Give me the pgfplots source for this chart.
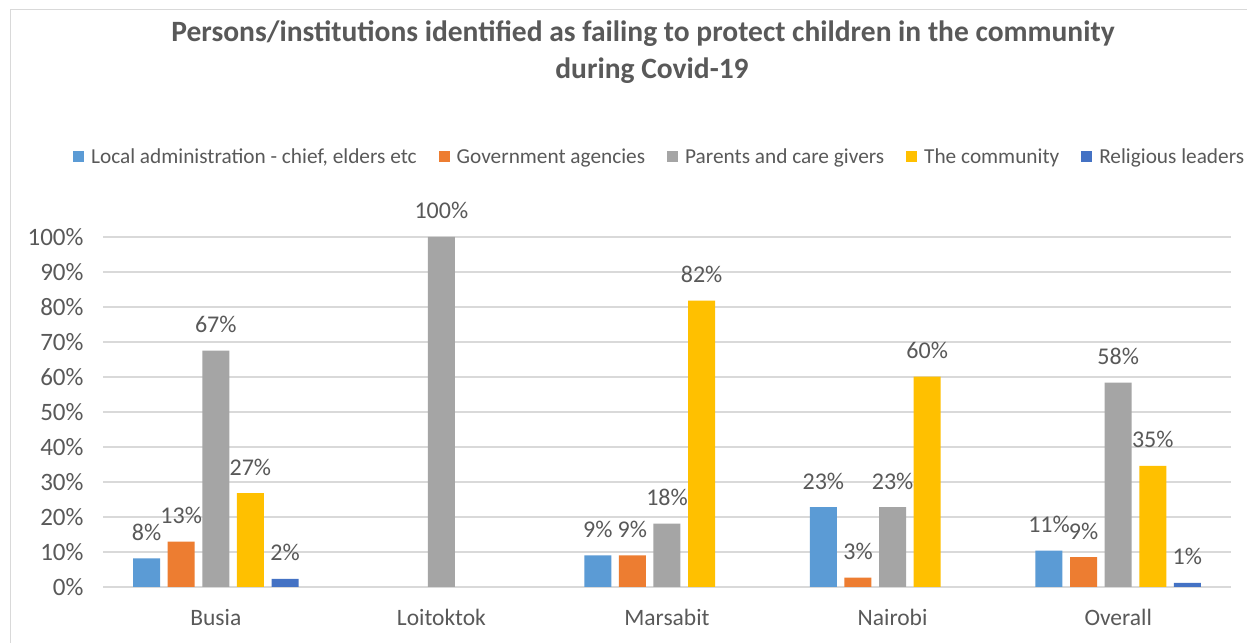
\documentclass[border=0pt]{standalone}
\usepackage{fontspec}
\setmainfont{Carlito}
\usepackage{pgfplots}
\pgfplotsset{compat=1.18}
\definecolor{txt}{HTML}{595959}
\definecolor{gridc}{HTML}{D9D9D9}
\definecolor{cA}{HTML}{5B9BD5}
\definecolor{cB}{HTML}{ED7D31}
\definecolor{cC}{HTML}{A5A5A5}
\definecolor{cD}{HTML}{FFC000}
\definecolor{cE}{HTML}{4472C4}
\begin{document}
\begin{tikzpicture}[x=1bp,y=1bp]
\useasboundingbox (0,0) rectangle (1247,643);
\fill[white] (0,0) rectangle (1247,643);
\draw[gridc, line width=1.5bp] (10.5,0) -- (10.5,633.5) -- (1247,633.5);
\node[font=\fontsize{29.5bp}{33bp}\selectfont\bfseries, text=txt] at (643,609) {Persons/institutions identified as failing to protect children in the community};
\node[font=\fontsize{29.5bp}{33bp}\selectfont\bfseries, text=txt] at (652,572) {during Covid-19};
\begin{axis}[
  at={(103bp,56bp)}, anchor=south west,
  scale only axis, width=1128bp, height=350bp,
  xmin=-0.5, xmax=4.5, ymin=0, ymax=100,
  ybar=7.6bp, bar width=27bp,
  axis line style={draw=none},
  major tick length=0pt,
  ymajorgrids, grid style={gridc, line width=1.3bp},
  ytick={0,10,...,100},
  yticklabels={0\%,10\%,20\%,30\%,40\%,50\%,60\%,70\%,80\%,90\%,100\%},
  xtick={0,1,2,3,4},
  xticklabels={Busia,Loitoktok,Marsabit,Nairobi,Overall},
  yticklabel style={font=\fontsize{25bp}{29bp}\selectfont, text=txt, xshift=-16bp},
  xticklabel style={font=\fontsize{23.5bp}{27bp}\selectfont, text=txt, yshift=-19bp},
  clip=false,
  point meta=explicit symbolic,
  nodes near coords,
  every node near coord/.append style={font=\fontsize{24bp}{28bp}\selectfont, text=txt, anchor=base, yshift=18bp},
  legend columns=5,
  legend style={draw=none, fill=none, at={(0.4935,1.2286)}, anchor=center,
    font=\fontsize{21.3bp}{25bp}\selectfont, text=txt,
    /tikz/every even column/.append style={column sep=20bp},
    /tikz/every odd column/.append style={column sep=0bp},
    inner sep=0pt},
  legend image code/.code={\fill[#1] (0bp,-5.5bp) rectangle (11bp,5.5bp);},
  legend cell align=left,
]
\addplot[fill=cA, draw=none] coordinates {(0,8.2) [8\%] (2,9.0) [9\%] (3,22.8) [23\%] (4,10.4) [11\%]};
\addplot[fill=cB, draw=none] coordinates {(0,12.95) [13\%] (2,9.0) [9\%] (3,2.7) [3\%] (4,8.5) [9\%]};
\addplot[fill=cC, draw=none] coordinates {(0,67.5) [67\%] (1,100) [100\%] (2,18.1) [18\%] (3,22.8) [23\%] (4,58.4) [58\%]};
\addplot[fill=cD, draw=none] coordinates {(0,26.8) [27\%] (2,81.8) [82\%] (3,60.1) [60\%] (4,34.6) [35\%]};
\addplot[fill=cE, draw=none] coordinates {(0,2.3) [2\%] (4,1.2) [1\%]};
\legend{{\hspace{5bp}Local administration - chief, elders etc},{\hspace{5bp}Government agencies},{\hspace{5bp}Parents and care givers},{\hspace{5bp}The community},{\hspace{5bp}Religious leaders}}
\end{axis}
\end{tikzpicture}
\end{document}
